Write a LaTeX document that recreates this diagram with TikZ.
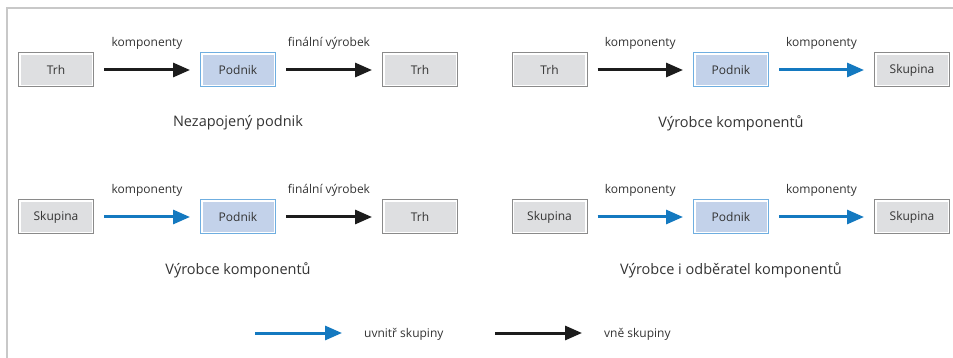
\documentclass[tikz,border=0pt]{standalone}
\usepackage{fontspec}
\setmainfont{Open Sans}
\usetikzlibrary{arrows.meta}

\definecolor{framegray}{HTML}{C8C8C8}
\definecolor{boxgray}{HTML}{DEDFE1}
\definecolor{boxedge}{HTML}{8A8A8A}
\definecolor{firmfill}{HTML}{C3D2EA}
\definecolor{firmedge}{HTML}{6FAEE0}
\definecolor{groupblue}{HTML}{1479C0}
\definecolor{outblack}{HTML}{1C1C1C}
\definecolor{ink}{HTML}{333333}

\tikzset{
  unit/.style={fill=white, line width=1pt, minimum width=75pt, minimum height=34pt,
    inner sep=0pt, text=ink, font=\fontsize{12}{14}\selectfont,
    path picture={\fill[#1] ([shift={(2pt,2pt)}]path picture bounding box.south west)
      rectangle ([shift={(-2pt,-2pt)}]path picture bounding box.north east);}},
  market/.style={unit=boxgray, draw=boxedge},
  firm/.style={unit=firmfill, draw=firmedge},
  link/.style={line width=3pt, -{Triangle[length=17pt,width=14pt]}},
  gap/.style={shorten <=10pt, shorten >=10pt},
  ingroup/.style={link, draw=groupblue},
  outgroup/.style={link, draw=outblack},
  lbl/.style={above=19pt, inner sep=0pt, text=ink, font=\fontsize{12}{14}\selectfont},
  caption/.style={inner sep=0pt, text=ink, font=\fontsize{14.5}{17}\selectfont},
  legend/.style={anchor=west, inner sep=0pt, text=ink, font=\fontsize{12}{14}\selectfont},
}

\begin{document}
\begin{tikzpicture}[x=1pt, y=-1pt]
\useasboundingbox (0,0) rectangle (953,358);
\draw[framegray, line width=1.5pt] (7,358) -- (7,8) -- (953,8);

% nezapojeny podnik
\node[market] (m1) at (56,70) {Trh};
\node[firm] (f1) at (238,70) {Podnik};
\node[market] (m2) at (420,70) {Trh};
\draw[outgroup, gap] (m1) -- node[lbl] {komponenty} (f1);
\draw[outgroup, gap] (f1) -- node[lbl] {finální výrobek} (m2);
\node[caption] (c1) at (238,123) {Nezapojený podnik};

% vyrobce komponentu pro skupinu
\node[market] (m3) at (549.5,70) {Trh};
\node[firm] (f2) at (731,70) {Podnik};
\node[market] (g1) at (912,70) {Skupina};
\draw[outgroup, gap] (m3) -- node[lbl] {komponenty} (f2);
\draw[ingroup, gap] (f2) -- node[lbl] {komponenty} (g1);
\node[caption] (c2) at (731,123) {Výrobce komponentů};

% vyrobce komponentu ze skupiny
\node[market] (g2) at (56,217) {Skupina};
\node[firm] (f3) at (238,217) {Podnik};
\node[market] (m4) at (420,217) {Trh};
\draw[ingroup, gap] (g2) -- node[lbl] {komponenty} (f3);
\draw[outgroup, gap] (f3) -- node[lbl] {finální výrobek} (m4);
\node[caption] (c3) at (238,270) {Výrobce komponentů};

% vyrobce i odberatel
\node[market] (g3) at (549.5,217) {Skupina};
\node[firm] (f4) at (731,217) {Podnik};
\node[market] (g4) at (912,217) {Skupina};
\draw[ingroup, gap] (g3) -- node[lbl] {komponenty} (f4);
\draw[ingroup, gap] (f4) -- node[lbl] {komponenty} (g4);
\node[caption] (c4) at (731,270) {Výrobce i odběratel komponentů};

% legenda
\coordinate (lb1) at (255,333);
\coordinate (lb2) at (342,333);
\coordinate (lk1) at (495,333);
\coordinate (lk2) at (582,333);
\draw[ingroup] (lb1) -- (lb2);
\draw[outgroup] (lk1) -- (lk2);
\node[legend] (t1) at (364,334) {uvnitř skupiny};
\node[legend] (t2) at (604,334) {vně skupiny};
\end{tikzpicture}
\end{document}
